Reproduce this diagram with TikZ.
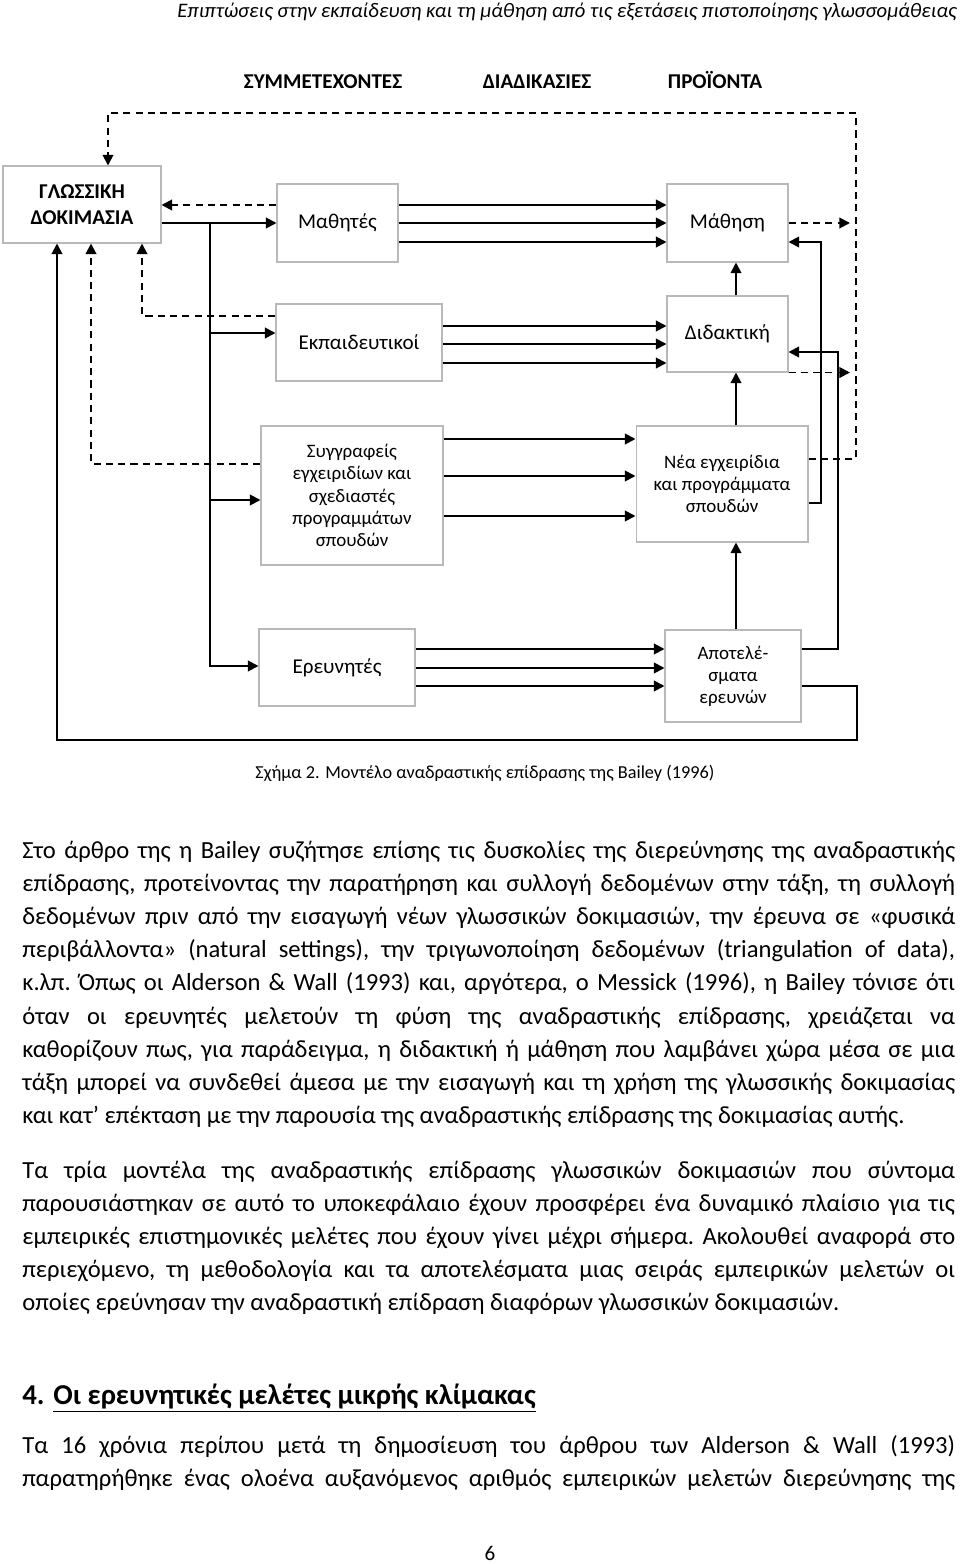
\documentclass[tikz,border=0pt]{standalone}
\usepackage{fontspec}
\setmainfont{Carlito}
\usetikzlibrary{arrows.meta}
\newcommand{\jl}[1]{\hbox to 18.66cm{#1}}
\newcommand{\para}[1]{\vtop{\hsize=18.66cm\fontsize{14}{18.9}\selectfont\frenchspacing\parindent=0pt #1}}

\begin{document}
\begin{tikzpicture}[x=0.02cm,y=-0.02cm,
    box/.style={draw=gray!55,line width=0.6pt,align=center,inner sep=1pt,font=\fontsize{12}{14.5}\selectfont},
    small/.style={font=\fontsize{10.8}{12.6}\selectfont},
    arr/.style={line width=1.1pt,-{Triangle[length=6pt,width=6pt]}},
    darr/.style={arr,dash pattern=on 4pt off 3pt},
    colhead/.style={anchor=base,inner sep=0pt,font=\fontsize{12}{14}\selectfont\bfseries},
    txt/.style={anchor=base west,inner sep=0pt}]
  \useasboundingbox (0,0) rectangle (960,1564);
  \fill[white] (0,0) rectangle (960,1564);

  \node[anchor=base east,inner sep=0pt,font=\fontsize{11.75}{13}\selectfont\itshape] (header) at (957,18) {Επιπτώσεις στην εκπαίδευση και τη μάθηση από τις εξετάσεις πιστοποίησης γλωσσομάθειας};

  \node[colhead] (hpart) at (323,89) {ΣΥΜΜΕΤΕΧΟΝΤΕΣ};
  \node[colhead] (hproc) at (537,89) {ΔΙΑΔΙΚΑΣΙΕΣ};
  \node[colhead] (hprod) at (715,89) {ΠΡΟΪΟΝΤΑ};

  \node[box,minimum width=3.16cm,minimum height=1.54cm] (test) at (82,204.5) {\textbf{ΓΛΩΣΣΙΚΗ}\\\textbf{ΔΟΚΙΜΑΣΙΑ}};
  \node[box,minimum width=2.42cm,minimum height=1.56cm] (learners) at (337.5,223) {Μαθητές};
  \node[box,minimum width=2.42cm,minimum height=1.56cm] (learning) at (727.5,223) {Μάθηση};
  \node[box,minimum width=3.32cm,minimum height=1.54cm] (teachers) at (359,342.5) {Εκπαιδευτικοί};
  \node[box,minimum width=2.42cm,minimum height=1.52cm] (teaching) at (727.5,334) {Διδακτική};
  \node[box,small,minimum width=3.64cm,minimum height=2.78cm] (writers) at (352,495.5) {Συγγραφείς\\εγχειριδίων και\\σχεδιαστές\\προγραμμάτων\\σπουδών};
  \node[box,small,minimum width=3.44cm,minimum height=2.32cm] (materials) at (722,484) {Νέα εγχειρίδια\\και προγράμματα\\σπουδών};
  \node[box,minimum width=3.12cm,minimum height=1.54cm] (researchers) at (337,667.5) {Ερευνητές};
  \node[box,small,minimum width=2.72cm,minimum height=1.84cm] (results) at (733,676) {Αποτελέ-\\σματα\\ερευνών};

  \coordinate (trunk) at (210,223);
  \coordinate (fbx) at (850,0);
  \coordinate (rail) at (856,113);

  \draw[arr] (test.east |- trunk) -- (learners.west |- trunk);
  \draw[arr] (trunk) |- (teachers.west |- 0,333);
  \draw[arr] (trunk) |- (writers.west |- 0,500);
  \draw[arr] (trunk) |- (researchers.west |- 0,666);

  \foreach \y in {205,223,242} \draw[arr] (learners.east |- 0,\y) -- (learning.west |- 0,\y);
  \foreach \y in {326,344,363} \draw[arr] (teachers.east |- 0,\y) -- (teaching.west |- 0,\y);
  \foreach \y in {439,476,516} \draw[arr] (writers.east |- 0,\y) -- (materials.west |- 0,\y);
  \foreach \y in {649,668,686} \draw[arr] (researchers.east |- 0,\y) -- (results.west |- 0,\y);

  \draw[arr] (teaching.north -| 736,0) -- (learning.south -| 736,0);
  \draw[arr] (materials.north -| 736,0) -- (teaching.south -| 736,0);
  \draw[arr] (results.north -| 736,0) -- (materials.south -| 736,0);
  \draw[arr] (materials.east |- 0,503) -| (821,242) -- (learning.east |- 0,242);
  \draw[arr] (results.east |- 0,649) -| (838,352) -- (teaching.east |- 0,352);
  \draw[arr] (results.east |- 0,686) -| (857,740) -| (test.south -| 57,0);

  \draw[darr] (learners.west |- 0,205) -- (test.east |- 0,205);
  \draw[darr] (teachers.west |- 0,316) -| (test.south -| 142,0);
  \draw[darr] (writers.west |- 0,464) -| (test.south -| 91,0);
  \draw[darr] (materials.east |- 0,459) -| (rail) -| (test.north -| 108,0);
  \draw[darr] (learning.east) -- (learning.east -| fbx);
  \draw[darr] (teaching.south east) -- (teaching.south east -| fbx);

  \node[font=\fontsize{10.4}{12}\selectfont] (caption) at (485,773) {Σχήμα 2. Μοντέλο αναδραστικής επίδρασης της Bailey (1996)};

  \node[txt] (para1) at (22,858) {\para{%
    \jl{Στο άρθρο της η Bailey συζήτησε επίσης τις δυσκολίες της διερεύνησης της αναδραστικής}
    \jl{επίδρασης, προτείνοντας την παρατήρηση και συλλογή δεδομένων στην τάξη, τη συλλογή}
    \jl{δεδομένων πριν από την εισαγωγή νέων γλωσσικών δοκιμασιών, την έρευνα σε «φυσικά}
    \jl{περιβάλλοντα» (natural settings), την τριγωνοποίηση δεδομένων (triangulation of data),}
    \jl{κ.λπ. Όπως οι Alderson \& Wall (1993) και, αργότερα, ο Messick (1996), η Bailey τόνισε ότι}
    \jl{όταν οι ερευνητές μελετούν τη φύση της αναδραστικής επίδρασης, χρειάζεται να}
    \jl{καθορίζουν πως, για παράδειγμα, η διδακτική ή μάθηση που λαμβάνει χώρα μέσα σε μια}
    \jl{τάξη μπορεί να συνδεθεί άμεσα με την εισαγωγή και τη χρήση της γλωσσικής δοκιμασίας}
    \hbox{και κατ’ επέκταση με την παρουσία της αναδραστικής επίδρασης της δοκιμασίας αυτής.}}};

  \node[txt] (para2) at (22,1178) {\para{%
    \jl{Τα τρία μοντέλα της αναδραστικής επίδρασης γλωσσικών δοκιμασιών που σύντομα}
    \jl{παρουσιάστηκαν σε αυτό το υποκεφάλαιο έχουν προσφέρει ένα δυναμικό πλαίσιο για τις}
    \jl{εμπειρικές επιστημονικές μελέτες που έχουν γίνει μέχρι σήμερα. Ακολουθεί αναφορά στο}
    \jl{περιεχόμενο, τη μεθοδολογία και τα αποτελέσματα μιας σειράς εμπειρικών μελετών οι}
    \hbox{οποίες ερεύνησαν την αναδραστική επίδραση διαφόρων γλωσσικών δοκιμασιών.}}};

  \node[txt,font=\fontsize{16.4}{18}\selectfont\bfseries] (heading) at (22,1404) {4. \underline{Οι ερευνητικές μελέτες μικρής κλίμακας}};

  \node[txt] (para3) at (22,1453) {\para{%
    \jl{Τα 16 χρόνια περίπου μετά τη δημοσίευση του άρθρου των Alderson \& Wall (1993)}
    \jl{παρατηρήθηκε ένας ολοένα αυξανόμενος αριθμός εμπειρικών μελετών διερεύνησης της}}};

  \node[anchor=base,inner sep=0pt,font=\fontsize{12}{14}\selectfont] (pagenum) at (490,1560) {6};
\end{tikzpicture}
\end{document}
